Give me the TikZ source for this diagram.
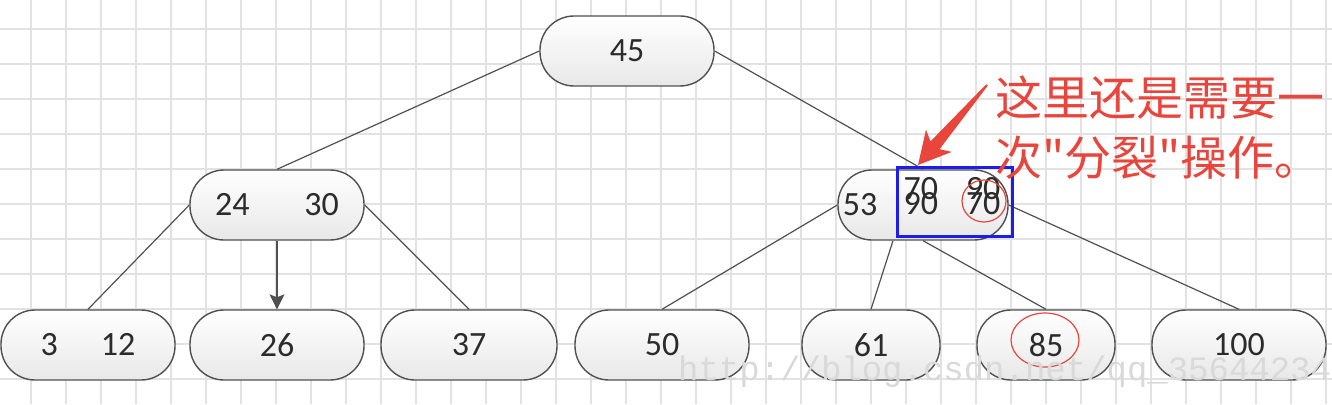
\documentclass[tikz,border=0pt]{standalone}
\usepackage{fontspec}
\setmainfont{Carlito}
\newfontfamily\cjk{Noto Sans CJK SC}
\newfontfamily\wmfont{Liberation Mono}
\usepackage{xcolor}
\definecolor{ink}{HTML}{2B2B2B}
\definecolor{edgegray}{HTML}{505050}
\definecolor{gridc}{HTML}{E2E2E2}
\definecolor{hot}{HTML}{E8453C}
\definecolor{splitblue}{HTML}{1C1CEB}
\usetikzlibrary{arrows.meta}
\tikzset{
  key/.style={draw=edgegray, line width=1.4pt, rounded corners=34pt,
    top color=white, bottom color=black!9, minimum height=70pt,
    minimum width=#1, inner sep=0pt, text=ink,
    font=\fontsize{34}{40}\selectfont},
  key/.default=174pt,
  keytext/.style={inner sep=0pt, text=ink, font=\fontsize{34}{40}\selectfont},
  link/.style={draw=edgegray, line width=1.2pt},
  gridline/.style={draw=gridc, line width=1.5pt},
  ring/.style={draw=hot, line width=1.2pt},
  splitbox/.style={draw=splitblue, line width=3pt},
  note/.style={inner sep=0pt, text=hot, font=\cjk\fontsize{47}{60}\selectfont},
  wmark/.style={inner sep=0pt, text=black!15, font=\wmfont\fontsize{34}{40}\selectfont},
}
\begin{document}
\begin{tikzpicture}[x=1pt, y=-1pt,
    wide/.style={key=174pt},
    narrow/.style={key=138pt}]
  \useasboundingbox (0,0) rectangle (1332,404);
  % grid paper
  \foreach \i in {0,...,37} \draw[gridline] (31+35*\i,0) -- (31+35*\i,404);
  \foreach \j in {0,...,10} \draw[gridline] (0,29+35*\j) -- (1332,29+35*\j);
  % tree
  \node[wide] (n45) at (627,51) {45};
  \node[wide] (n2430) at (277,205) {24\hspace{55pt}30};
  \node[key=170pt] (n53) at (923,205) {};
  \node[wide] (n312) at (88,345) {3\hspace{43pt}12\hspace{20pt}};
  \node[wide] (n26) at (277,345) {26};
  \node[key=176pt] (n37) at (469,345) {37};
  \node[wide] (n50) at (662,345) {50};
  \node[narrow] (n61) at (871,345) {61};
  \node[narrow] (n85) at (1046,345) {85};
  \node[wide] (n100) at (1239,345) {100};
  \node[keytext] (k53) at (860,205) {53};
  \node[keytext] (kup) at (952,189) {70\hspace{28pt}90};
  \node[keytext] (klo) at (952,204) {90\hspace{28pt}70};
  \foreach \a/\b in {n45.west/n2430.north, n45.east/n53.north,
      n2430.west/n312.north, n2430.east/n37.north, n53.west/n50.north,
      n53.south/n85.north, n53.east/n100.north}
    \draw[link] (\a) -- (\b);
  \draw[link] ([xshift=-30pt]n53.south) -- (n61.north);
  \draw[link, -{Stealth[length=15pt, width=15pt, inset=3pt]}] (n2430.south) -- (n26.north);
  % marks
  \draw[ring] (984,201) ellipse [x radius=22, y radius=21];
  \draw[ring] (1045,340) ellipse [x radius=34, y radius=27];
  \draw[splitbox] (897,167) rectangle (1012,236);
  \fill[hot] (918,165) -- (951.8,151.9) -- (939.5,149.2) -- (987.8,85.7)
    -- (986.2,84.3) -- (930.5,141.4) -- (926.0,129.7) -- cycle;
  \node[note, anchor=west] (msg1) at (995,98) {这里还是需要一};
  \node[note, anchor=west] (msg2) at (995,158) {次"分裂"操作。};
  \node[wmark, anchor=west] (wm) at (678,372) {http://blog.csdn.net/qq\_35644234};
\end{tikzpicture}
\end{document}
